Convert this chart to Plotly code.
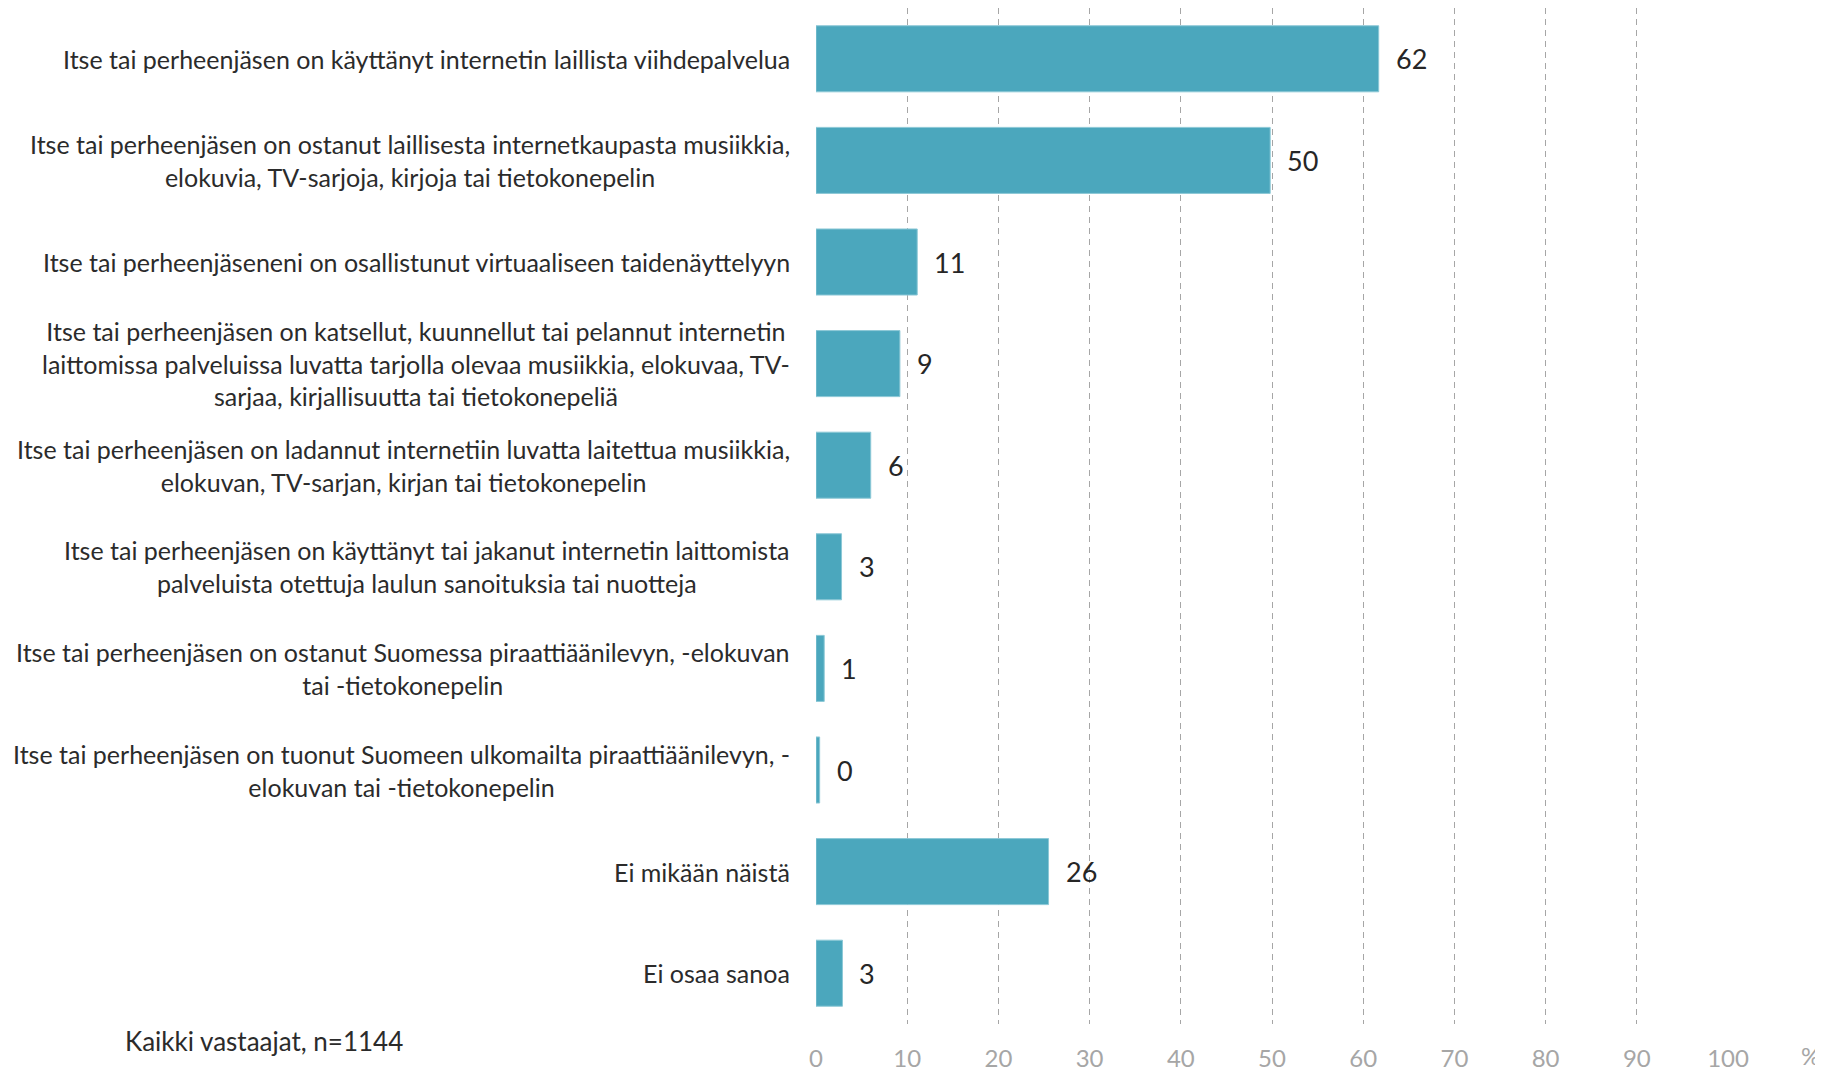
import plotly.graph_objects as go

categories = [
    "Itse tai perheenjäsen on käyttänyt internetin laillista viihdepalvelua",
    "Itse tai perheenjäsen on ostanut laillisesta internetkaupasta musiikkia,<br>elokuvia, TV-sarjoja, kirjoja tai tietokonepelin",
    "Itse tai perheenjäseneni on osallistunut virtuaaliseen taidenäyttelyyn",
    "Itse tai perheenjäsen on katsellut, kuunnellut tai pelannut internetin<br>laittomissa palveluissa luvatta tarjolla olevaa musiikkia, elokuvaa, TV-<br>sarjaa, kirjallisuutta tai tietokonepeliä",
    "Itse tai perheenjäsen on ladannut internetiin luvatta laitettua musiikkia,<br>elokuvan, TV-sarjan, kirjan tai tietokonepelin",
    "Itse tai perheenjäsen on käyttänyt tai jakanut internetin laittomista<br>palveluista otettuja laulun sanoituksia tai nuotteja",
    "Itse tai perheenjäsen on ostanut Suomessa piraattiäänilevyn, -elokuvan<br>tai -tietokonepelin",
    "Itse tai perheenjäsen on tuonut Suomeen ulkomailta piraattiäänilevyn, -<br>elokuvan tai -tietokonepelin",
    "Ei mikään näistä",
    "Ei osaa sanoa",
]
values = [61.7, 49.8, 11.1, 9.2, 6.0, 2.8, 0.9, 0.4, 25.5, 2.9]
value_labels = ["62", "50", "11", "9", "6", "3", "1", "0", "26", "3"]
x_ticks = [0, 10, 20, 30, 40, 50, 60, 70, 80, 90, 100]
note = "Kaikki vastaajat, n=1144"
unit = "%"

FONT = "Lato, 'Open Sans', sans-serif"
ids = [f"c{i}" for i in range(len(categories))]

fig = go.Figure()
fig.add_trace(go.Bar(
    x=values, y=ids, orientation="h",
    marker=dict(color="#4BA7BD", line=dict(color="#8CC8D6", width=1)),
    hoverinfo="skip",
))

annotations = []
for cid, lab in zip(ids, categories):
    annotations.append(dict(
        x=0, xref="paper", y=cid, yref="y", text=lab, showarrow=False,
        xanchor="right", yanchor="middle", align="center", xshift=-24,
        font=dict(family=FONT, size=25, color="#2B2B2B"),
    ))
for cid, v, t in zip(ids, values, value_labels):
    annotations.append(dict(
        x=v, xref="x", y=cid, yref="y", text=t, showarrow=False,
        xanchor="left", yanchor="middle", xshift=15,
        font=dict(family=FONT, size=27, color="#262626"),
    ))
annotations.append(dict(
    x=-0.76, xref="paper", y=-0.017, yref="paper", text=note, showarrow=False,
    xanchor="left", yanchor="middle",
    font=dict(family=FONT, size=26, color="#2B2B2B"),
))
annotations.append(dict(
    x=1.09, xref="paper", y=-0.031, yref="paper", text=unit, showarrow=False,
    xanchor="center", yanchor="middle",
    font=dict(family=FONT, size=24, color="#A6A6A6"),
))

fig.update_layout(
    width=1815, height=1065,
    margin=dict(l=808, r=95, t=0, b=49),
    paper_bgcolor="white", plot_bgcolor="white",
    bargap=0.35, showlegend=False,
    annotations=annotations,
    xaxis=dict(
        range=[0, 100], tickvals=x_ticks, ticktext=[str(t) for t in x_ticks],
        showgrid=True, gridcolor="#A6A6A6", gridwidth=1, griddash="6px,5px",
        zeroline=False, showline=False, automargin=False,
        ticks="outside", ticklen=13, tickcolor="rgba(0,0,0,0)",
        tickfont=dict(family=FONT, size=24, color="#A6A6A6"),
    ),
    yaxis=dict(
        autorange="reversed", showticklabels=False, showgrid=False,
        zeroline=False, showline=False, automargin=False,
    ),
)

fig.write_html("out.html")
